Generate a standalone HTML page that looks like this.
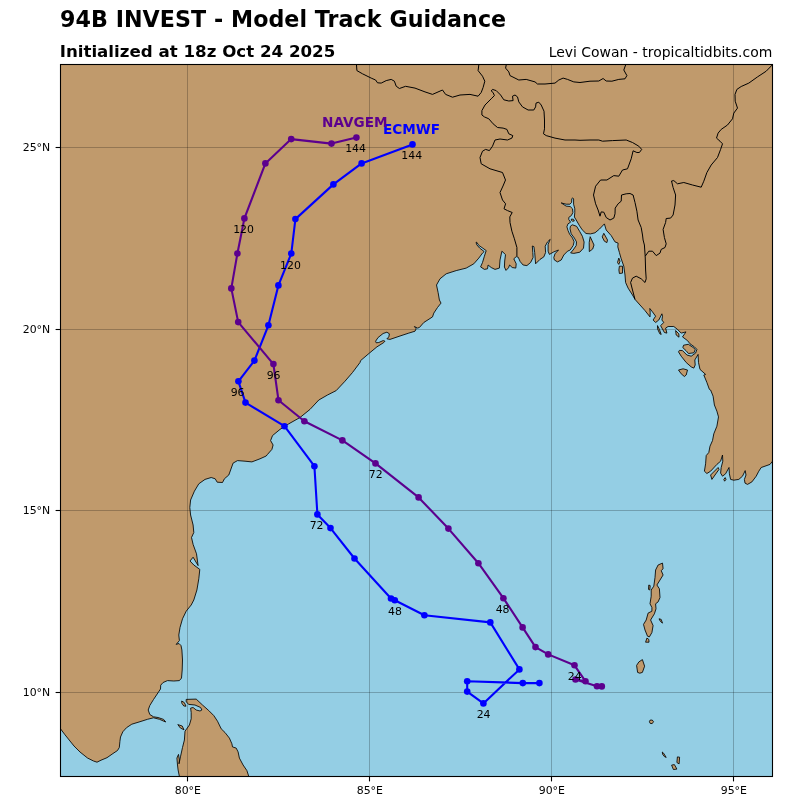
<!DOCTYPE html>
<html lang="en">
<head>
<meta charset="utf-8">
<title>94B INVEST - Model Track Guidance</title>
<style>
html,body{margin:0;padding:0;background:#fff;}
body{width:800px;height:800px;overflow:hidden;}
svg{display:block;}
text{font-family:"DejaVu Sans","Liberation Sans",sans-serif;fill:#000;}
.tick{font-size:8px;}
.lbl{font-size:10.9px;text-anchor:middle;}
.b{font-weight:bold;}
</style>
</head>
<body>
<svg width="800" height="800" viewBox="0 0 800 800">
<rect x="0" y="0" width="800" height="800" fill="#ffffff"/>
<defs><clipPath id="ax"><rect x="60.5" y="64.5" width="712" height="712"/></clipPath></defs>
<rect x="60.5" y="64.5" width="712" height="712" fill="#94cee4"/>
<g clip-path="url(#ax)">
<path d="M60.5,728.8 L65.0,734.8 L74.0,746.0 L80.0,752.0 L87.5,758.0 L93.5,761.0 L97.0,762.2 L101.0,760.2 L107.0,757.7 L113.0,753.5 L117.5,750.5 L119.3,747.5 L119.9,741.5 L120.5,737.0 L122.8,731.8 L126.5,727.7 L131.8,724.2 L140.0,721.7 L147.5,719.3 L153.5,717.8 L159.5,719.3 L165.7,722.0 L163.6,719.4 L158.0,717.5 L153.5,716.8 L149.8,714.5 L148.2,710.0 L149.8,705.5 L153.5,699.5 L158.0,692.8 L160.5,689.0 L160.7,685.2 L163.1,682.5 L167.5,680.6 L173.8,681.0 L179.4,680.6 L181.5,678.1 L182.2,670.0 L182.5,660.0 L181.9,650.0 L181.0,645.6 L179.0,643.5 L176.2,644.4 L179.4,640.6 L178.8,635.0 L180.0,627.5 L182.5,618.8 L186.2,611.2 L191.2,605.0 L193.8,600.0 L196.9,590.0 L198.8,578.8 L199.8,569.4 L193.8,565.0 L190.0,561.0 L193.1,557.2 L198.1,565.6 L196.5,553.8 L193.1,544.4 L191.5,537.5 L193.8,532.5 L193.1,525.0 L190.6,515.0 L189.8,507.5 L190.6,500.0 L194.4,491.2 L198.8,483.8 L205.0,479.4 L211.2,477.5 L215.2,478.8 L217.2,482.2 L222.5,482.5 L224.4,478.8 L228.8,475.0 L230.6,470.0 L233.1,463.1 L237.5,460.6 L245.0,461.2 L251.9,461.9 L260.0,458.8 L266.2,456.0 L267.5,454.4 L271.9,449.4 L273.1,445.0 L270.6,440.6 L272.5,435.6 L280.0,429.4 L288.8,423.8 L300.0,417.5 L310.0,409.4 L318.8,400.0 L327.5,395.0 L336.2,390.6 L345.0,381.2 L352.5,372.5 L360.0,362.5 L360.6,360.6 L369.4,353.1 L376.9,346.9 L383.8,342.5 L385.0,341.2 L383.1,340.6 L378.8,342.5 L376.2,342.8 L375.6,341.2 L378.1,337.5 L383.1,333.5 L386.9,332.2 L389.4,333.8 L388.8,336.9 L386.9,338.8 L390.0,339.4 L400.0,336.0 L408.8,333.1 L415.0,331.2 L416.2,328.8 L414.4,326.5 L417.5,328.1 L419.4,327.5 L423.8,322.5 L432.5,316.9 L433.8,313.1 L437.5,307.5 L441.0,303.1 L439.4,300.0 L438.1,292.5 L436.5,285.0 L440.0,278.8 L446.2,273.8 L456.2,270.6 L466.2,268.1 L473.8,263.8 L478.8,258.1 L482.5,253.1 L484.2,251.6 L479.6,248.0 L476.6,244.6 L476.1,242.2 L476.9,242.4 L478.7,245.3 L483.0,248.3 L486.2,250.6 L484.4,256.2 L482.5,262.5 L480.6,266.9 L484.4,269.4 L487.5,268.8 L488.1,265.0 L491.2,267.5 L495.0,269.4 L499.4,268.1 L500.0,260.0 L501.9,251.2 L505.5,254.6 L504.7,261.0 L504.4,267.0 L506.0,270.4 L508.5,267.8 L509.6,265.0 L512.2,267.5 L515.8,268.1 L516.2,263.8 L513.8,258.8 L516.3,256.6 L518.2,257.2 L520.2,261.6 L523.1,265.0 L526.9,265.6 L530.6,262.5 L533.1,257.5 L532.8,252.5 L532.3,246.0 L533.9,246.6 L534.7,252.5 L535.6,263.8 L540.0,259.4 L543.8,256.9 L545.6,252.5 L545.2,246.2 L547.5,241.9 L550.2,239.4 L548.1,244.4 L548.1,251.2 L549.4,254.4 L553.8,251.9 L558.5,250.0 L555.0,253.8 L553.8,257.5 L554.4,260.0 L557.5,261.9 L561.2,260.0 L563.8,255.0 L567.5,251.2 L570.2,250.0 L573.2,245.5 L574.1,241.8 L572.5,238.0 L569.6,234.2 L568.0,230.5 L566.9,226.8 L568.0,223.8 L570.6,222.2 L568.8,219.6 L568.8,217.4 L571.4,215.5 L572.9,212.5 L572.5,208.8 L570.2,206.5 L566.1,206.1 L561.2,202.9 L566.1,204.2 L569.9,204.2 L571.6,202.4 L571.8,198.6 L572.7,197.9 L573.6,199.0 L573.6,204.2 L574.8,208.8 L574.8,212.5 L574.4,217.0 L576.2,220.0 L579.2,225.2 L582.2,229.8 L586.0,233.5 L590.5,233.9 L595.0,232.8 L599.5,229.0 L604.4,223.9 L606.2,230.0 L611.2,235.6 L615.0,241.9 L618.1,243.1 L617.8,246.9 L619.4,252.5 L621.2,258.8 L623.8,266.2 L625.0,275.0 L625.6,282.5 L628.1,288.1 L632.5,295.0 L635.0,299.4 L640.0,305.0 L645.0,310.6 L650.0,316.9 L650.2,312.5 L649.8,308.5 L652.5,311.9 L655.6,316.2 L653.1,320.0 L655.6,322.5 L658.8,320.0 L661.9,313.8 L662.5,316.2 L661.9,320.0 L663.8,322.5 L660.6,325.6 L664.4,332.5 L666.9,333.1 L665.6,328.1 L668.1,326.5 L673.8,326.5 L677.5,329.4 L681.2,333.1 L686.0,331.9 L682.5,336.9 L687.5,340.6 L690.0,343.8 L694.4,346.9 L696.9,349.4 L695.6,353.1 L691.2,356.2 L686.9,355.0 L682.5,350.6 L679.4,350.4 L678.5,351.9 L681.2,356.2 L686.2,362.5 L691.2,366.9 L693.8,368.1 L695.2,365.0 L694.8,360.0 L698.1,354.4 L698.5,362.5 L700.0,369.4 L705.6,374.4 L703.8,375.0 L706.9,382.5 L709.4,389.4 L710.6,390.0 L713.1,396.2 L714.4,405.0 L716.9,411.2 L718.5,416.9 L716.9,426.2 L713.8,433.8 L712.5,440.6 L710.0,446.2 L708.8,452.5 L706.2,455.6 L705.6,463.8 L704.4,471.2 L706.9,473.5 L710.6,471.2 L716.9,464.4 L720.6,461.2 L722.5,455.0 L722.8,461.2 L721.2,467.5 L720.6,473.1 L722.5,476.2 L725.6,473.8 L729.0,467.5 L729.4,473.8 L730.6,479.4 L733.8,480.2 L738.8,479.4 L742.5,476.2 L745.2,470.6 L746.0,475.0 L744.4,479.4 L745.0,483.1 L747.5,484.4 L751.9,481.9 L756.2,476.2 L758.8,471.2 L761.2,467.5 L770.0,464.4 L772.5,461.2 L772.5,64.5 L60.5,64.5Z" fill="#c09a6c" stroke="none"/>
<path d="M60.5,728.8 L65.0,734.8 L74.0,746.0 L80.0,752.0 L87.5,758.0 L93.5,761.0 L97.0,762.2 L101.0,760.2 L107.0,757.7 L113.0,753.5 L117.5,750.5 L119.3,747.5 L119.9,741.5 L120.5,737.0 L122.8,731.8 L126.5,727.7 L131.8,724.2 L140.0,721.7 L147.5,719.3 L153.5,717.8 L159.5,719.3 L165.7,722.0 L163.6,719.4 L158.0,717.5 L153.5,716.8 L149.8,714.5 L148.2,710.0 L149.8,705.5 L153.5,699.5 L158.0,692.8 L160.5,689.0 L160.7,685.2 L163.1,682.5 L167.5,680.6 L173.8,681.0 L179.4,680.6 L181.5,678.1 L182.2,670.0 L182.5,660.0 L181.9,650.0 L181.0,645.6 L179.0,643.5 L176.2,644.4 L179.4,640.6 L178.8,635.0 L180.0,627.5 L182.5,618.8 L186.2,611.2 L191.2,605.0 L193.8,600.0 L196.9,590.0 L198.8,578.8 L199.8,569.4 L193.8,565.0 L190.0,561.0 L193.1,557.2 L198.1,565.6 L196.5,553.8 L193.1,544.4 L191.5,537.5 L193.8,532.5 L193.1,525.0 L190.6,515.0 L189.8,507.5 L190.6,500.0 L194.4,491.2 L198.8,483.8 L205.0,479.4 L211.2,477.5 L215.2,478.8 L217.2,482.2 L222.5,482.5 L224.4,478.8 L228.8,475.0 L230.6,470.0 L233.1,463.1 L237.5,460.6 L245.0,461.2 L251.9,461.9 L260.0,458.8 L266.2,456.0 L267.5,454.4 L271.9,449.4 L273.1,445.0 L270.6,440.6 L272.5,435.6 L280.0,429.4 L288.8,423.8 L300.0,417.5 L310.0,409.4 L318.8,400.0 L327.5,395.0 L336.2,390.6 L345.0,381.2 L352.5,372.5 L360.0,362.5 L360.6,360.6 L369.4,353.1 L376.9,346.9 L383.8,342.5 L385.0,341.2 L383.1,340.6 L378.8,342.5 L376.2,342.8 L375.6,341.2 L378.1,337.5 L383.1,333.5 L386.9,332.2 L389.4,333.8 L388.8,336.9 L386.9,338.8 L390.0,339.4 L400.0,336.0 L408.8,333.1 L415.0,331.2 L416.2,328.8 L414.4,326.5 L417.5,328.1 L419.4,327.5 L423.8,322.5 L432.5,316.9 L433.8,313.1 L437.5,307.5 L441.0,303.1 L439.4,300.0 L438.1,292.5 L436.5,285.0 L440.0,278.8 L446.2,273.8 L456.2,270.6 L466.2,268.1 L473.8,263.8 L478.8,258.1 L482.5,253.1 L484.2,251.6 L479.6,248.0 L476.6,244.6 L476.1,242.2 L476.9,242.4 L478.7,245.3 L483.0,248.3 L486.2,250.6 L484.4,256.2 L482.5,262.5 L480.6,266.9 L484.4,269.4 L487.5,268.8 L488.1,265.0 L491.2,267.5 L495.0,269.4 L499.4,268.1 L500.0,260.0 L501.9,251.2 L505.5,254.6 L504.7,261.0 L504.4,267.0 L506.0,270.4 L508.5,267.8 L509.6,265.0 L512.2,267.5 L515.8,268.1 L516.2,263.8 L513.8,258.8 L516.3,256.6 L518.2,257.2 L520.2,261.6 L523.1,265.0 L526.9,265.6 L530.6,262.5 L533.1,257.5 L532.8,252.5 L532.3,246.0 L533.9,246.6 L534.7,252.5 L535.6,263.8 L540.0,259.4 L543.8,256.9 L545.6,252.5 L545.2,246.2 L547.5,241.9 L550.2,239.4 L548.1,244.4 L548.1,251.2 L549.4,254.4 L553.8,251.9 L558.5,250.0 L555.0,253.8 L553.8,257.5 L554.4,260.0 L557.5,261.9 L561.2,260.0 L563.8,255.0 L567.5,251.2 L570.2,250.0 L573.2,245.5 L574.1,241.8 L572.5,238.0 L569.6,234.2 L568.0,230.5 L566.9,226.8 L568.0,223.8 L570.6,222.2 L568.8,219.6 L568.8,217.4 L571.4,215.5 L572.9,212.5 L572.5,208.8 L570.2,206.5 L566.1,206.1 L561.2,202.9 L566.1,204.2 L569.9,204.2 L571.6,202.4 L571.8,198.6 L572.7,197.9 L573.6,199.0 L573.6,204.2 L574.8,208.8 L574.8,212.5 L574.4,217.0 L576.2,220.0 L579.2,225.2 L582.2,229.8 L586.0,233.5 L590.5,233.9 L595.0,232.8 L599.5,229.0 L604.4,223.9 L606.2,230.0 L611.2,235.6 L615.0,241.9 L618.1,243.1 L617.8,246.9 L619.4,252.5 L621.2,258.8 L623.8,266.2 L625.0,275.0 L625.6,282.5 L628.1,288.1 L632.5,295.0 L635.0,299.4 L640.0,305.0 L645.0,310.6 L650.0,316.9 L650.2,312.5 L649.8,308.5 L652.5,311.9 L655.6,316.2 L653.1,320.0 L655.6,322.5 L658.8,320.0 L661.9,313.8 L662.5,316.2 L661.9,320.0 L663.8,322.5 L660.6,325.6 L664.4,332.5 L666.9,333.1 L665.6,328.1 L668.1,326.5 L673.8,326.5 L677.5,329.4 L681.2,333.1 L686.0,331.9 L682.5,336.9 L687.5,340.6 L690.0,343.8 L694.4,346.9 L696.9,349.4 L695.6,353.1 L691.2,356.2 L686.9,355.0 L682.5,350.6 L679.4,350.4 L678.5,351.9 L681.2,356.2 L686.2,362.5 L691.2,366.9 L693.8,368.1 L695.2,365.0 L694.8,360.0 L698.1,354.4 L698.5,362.5 L700.0,369.4 L705.6,374.4 L703.8,375.0 L706.9,382.5 L709.4,389.4 L710.6,390.0 L713.1,396.2 L714.4,405.0 L716.9,411.2 L718.5,416.9 L716.9,426.2 L713.8,433.8 L712.5,440.6 L710.0,446.2 L708.8,452.5 L706.2,455.6 L705.6,463.8 L704.4,471.2 L706.9,473.5 L710.6,471.2 L716.9,464.4 L720.6,461.2 L722.5,455.0 L722.8,461.2 L721.2,467.5 L720.6,473.1 L722.5,476.2 L725.6,473.8 L729.0,467.5 L729.4,473.8 L730.6,479.4 L733.8,480.2 L738.8,479.4 L742.5,476.2 L745.2,470.6 L746.0,475.0 L744.4,479.4 L745.0,483.1 L747.5,484.4 L751.9,481.9 L756.2,476.2 L758.8,471.2 L761.2,467.5 L770.0,464.4 L772.5,461.2" fill="none" stroke="#000" stroke-width="0.85" stroke-linejoin="round"/>
<path d="M572.3,224.8 L576.6,226.3 L579.6,231.3 L582.4,236.3 L584.1,242.0 L583.5,248.1 L579.8,252.2 L573.8,253.4 L570.6,252.9 L573.1,250.0 L576.2,245.6 L576.5,241.9 L574.4,238.1 L571.2,233.8 L570.0,228.8 L570.4,226.2Z M571.5,219.0 L573.5,219.3 L574.3,221.0 L572.5,221.2 L571.2,220.2Z M590.2,236.7 L594.0,245.0 L592.7,249.0 L589.3,251.6 L589.2,242.5Z M603.8,233.3 L607.5,240.0 L606.9,242.6 L604.4,241.2 L602.2,236.9Z M618.8,258.1 L620.0,261.2 L618.8,264.4 L617.5,262.5Z M619.4,266.2 L622.5,266.2 L622.5,273.1 L619.4,273.5 L618.9,270.0Z M657.5,325.6 L659.4,329.4 L661.2,334.4 L659.8,333.8 L657.5,328.8Z M675.6,330.6 L678.8,333.8 L679.0,337.2 L676.2,335.0Z M683.6,345.2 L688.3,344.3 L693.0,347.4 L695.3,349.4 L693.9,352.8 L688.5,353.5 L686.0,350.6 L682.8,347.6Z M678.5,370.0 L683.1,368.8 L687.5,370.0 L686.2,375.0 L684.4,376.5 L681.2,373.8Z M710.6,475.0 L718.1,467.5 L719.0,469.4 L715.0,475.0 L711.9,479.4Z M723.8,479.4 L725.2,477.6 L726.0,479.4 L724.6,481.2Z M186.2,699.4 L196.2,699.1 L202.5,705.0 L208.8,710.6 L213.8,715.6 L217.5,721.2 L221.2,728.8 L225.0,732.5 L229.4,738.1 L231.9,743.8 L232.5,746.9 L236.2,748.1 L238.1,751.9 L239.4,758.1 L243.1,765.0 L246.9,770.6 L248.8,776.5 L179.4,776.5 L178.1,770.0 L177.5,765.0 L176.9,758.1 L178.5,754.4 L179.4,760.0 L179.0,763.8 L180.6,756.2 L182.5,747.5 L184.4,740.0 L185.0,731.2 L189.4,725.0 L191.2,718.8 L191.2,712.5 L190.6,708.1 L193.1,707.5 L196.2,710.0 L200.0,711.0 L201.9,710.0 L200.6,707.5 L195.0,705.0 L188.8,704.4 L186.2,701.9Z M181.7,701.0 L184.3,702.6 L186.0,706.2 L183.8,706.0 L181.8,703.2Z M177.8,724.6 L182.2,726.0 L184.0,729.8 L180.4,728.0Z M662.5,563.1 L663.1,568.8 L661.2,570.6 L663.1,575.0 L660.0,580.0 L656.9,585.0 L659.4,588.8 L660.0,597.5 L658.1,601.9 L655.6,603.8 L656.0,608.8 L654.4,613.8 L650.6,620.0 L653.1,625.6 L651.9,632.5 L649.4,636.9 L647.5,636.2 L645.0,630.0 L643.5,624.4 L646.2,620.0 L648.1,613.1 L651.9,611.2 L651.9,607.5 L650.0,603.8 L651.2,596.2 L651.2,590.0 L653.8,586.2 L655.0,577.5 L655.6,570.0 L658.1,565.0Z M648.8,585.0 L650.2,585.6 L649.8,590.0 L648.5,589.4Z M659.0,618.8 L661.2,619.4 L662.5,623.1 L660.5,621.5Z M646.9,638.1 L648.8,639.4 L649.0,642.2 L645.6,642.2Z M642.4,659.6 L644.6,666.2 L642.4,672.4 L639.8,673.2 L637.6,672.4 L636.6,665.4 L638.9,661.9Z M650.0,720.2 L652.2,720.0 L653.5,721.7 L652.2,723.6 L650.2,723.4 L649.4,721.7Z M662.3,752.0 L663.6,753.2 L666.2,757.4 L664.4,756.6 L662.6,754.2Z M677.4,756.9 L679.6,757.2 L679.1,763.9 L676.9,762.5Z M671.6,765.1 L674.4,764.6 L676.9,769.1 L673.4,769.5Z" fill="#c09a6c" stroke="#000" stroke-width="0.85" stroke-linejoin="round"/>
<path d="M356.5,65.0 L356.9,70.6 L362.5,73.8 L371.2,78.1 L375.6,80.0 L377.5,82.8 L381.2,83.1 L386.2,80.6 L391.2,79.4 L394.4,81.2 L396.2,86.2 L399.4,88.5 L405.6,86.3 L415.0,88.1 L425.0,91.9 L432.5,94.4 L442.5,90.0 L445.6,94.4 L452.5,97.2 L460.0,95.0 L470.0,94.4 L478.1,96.2 L481.2,92.5 L483.1,87.5 L484.8,81.2 L482.5,76.2 L478.1,70.6 L478.8,65.0 M506.2,65.0 L505.6,68.1 L508.8,71.9 L510.0,75.6 L518.8,80.0 L526.2,79.4 L535.0,81.9 L537.5,84.0 L545.0,84.0 L555.0,83.1 L558.8,80.0 L563.1,78.1 L567.5,79.4 L573.8,81.9 L580.0,82.5 L590.0,81.2 L598.8,81.0 L603.1,78.5 L606.2,81.0 L611.9,81.2 L618.8,79.4 L625.0,78.8 L626.9,75.6 L623.8,70.0 L625.6,65.0 M516.9,256.2 L516.9,247.5 L514.4,238.8 L511.9,231.2 L510.0,222.5 L509.8,216.9 L512.2,212.5 L507.5,210.6 L504.0,208.8 L505.6,203.8 L502.5,200.0 L500.0,192.5 L503.0,186.0 L505.5,180.0 L502.5,172.5 L490.0,168.8 L481.2,163.8 L480.0,157.5 L482.5,151.2 L485.6,149.4 L489.4,150.6 L492.5,146.2 L495.0,140.0 L500.0,139.0 L507.5,140.0 L511.9,138.1 L512.8,135.6 L508.8,133.8 L506.9,129.4 L503.1,128.1 L497.5,127.5 L493.1,123.8 L488.8,118.8 L484.4,116.9 L481.9,115.0 L481.9,110.6 L485.0,105.0 L491.2,98.8 L494.4,95.6 L493.1,92.5 L491.2,91.0 L492.5,89.4 L496.2,90.6 L500.6,95.0 L503.8,99.8 L508.8,101.0 L513.1,100.6 L512.5,96.2 L515.0,95.0 L517.5,96.9 L518.8,101.9 L522.5,106.9 L528.1,110.0 L533.8,110.0 L535.6,106.9 L536.0,103.1 L538.8,102.2 L541.2,105.0 L544.0,111.2 L544.5,120.0 L544.5,128.8 L543.5,133.8 L546.2,135.6 L555.0,138.1 L565.0,140.0 L575.0,140.0 L580.0,140.3 L590.0,140.0 L598.8,140.0 L602.5,141.2 L612.5,140.6 L626.2,140.0 L632.5,142.5 L638.8,146.2 L641.7,149.4 L639.4,152.5 L636.9,152.5 L633.1,150.8 L631.2,158.8 L627.5,168.8 L622.5,170.0 L618.8,176.2 L613.8,175.6 L606.9,180.0 L600.6,180.0 L595.6,186.2 L593.5,195.0 L595.6,203.8 L598.1,210.0 L600.0,216.2 L601.2,211.9 L603.8,212.2 L606.2,217.5 L610.0,220.0 L613.8,218.1 L615.0,213.8 L615.2,208.1 L618.1,203.8 L621.2,201.2 L621.5,195.0 L626.2,193.8 L630.0,193.5 L633.1,195.0 L635.0,202.5 L636.9,211.2 L638.1,220.0 L641.2,227.5 L642.5,235.0 L643.1,240.0 L644.4,245.0 L645.2,256.2 L645.6,270.0 L646.2,278.8 L645.0,282.5 L641.2,278.8 L636.2,276.2 L632.5,278.1 L630.6,282.5 L632.5,290.0 L635.0,299.4 M772.2,65.0 L766.2,71.2 L757.5,76.9 L748.8,83.1 L741.2,86.5 L736.9,89.4 L735.0,94.4 L735.2,101.2 L737.5,108.1 L733.8,113.1 L732.5,118.8 L727.5,125.0 L721.2,129.4 L718.1,133.1 L716.5,138.1 L720.0,141.2 L722.5,143.8 L720.6,149.4 L717.5,157.5 L711.2,165.0 L706.9,172.5 L703.8,181.2 L701.2,187.2 L692.5,185.0 L683.8,182.5 L677.5,183.8 L673.8,180.6 L671.5,181.0 L673.1,187.5 L675.6,195.0 L675.0,205.0 L673.1,215.0 L670.6,218.1 L666.2,218.5 L665.6,222.5 L663.1,229.4 L664.4,237.5 L666.2,243.8 L665.0,247.5 L661.2,249.4 L660.0,253.1 L656.2,255.6 L652.5,251.2 L648.8,251.2 L645.2,256.2" fill="none" stroke="#000" stroke-width="1.0" stroke-linejoin="round"/>
<line x1="187.5" y1="64.5" x2="187.5" y2="776.5" stroke="#000" stroke-opacity="0.23" stroke-width="1"/>
<line x1="369.5" y1="64.5" x2="369.5" y2="776.5" stroke="#000" stroke-opacity="0.23" stroke-width="1"/>
<line x1="551.5" y1="64.5" x2="551.5" y2="776.5" stroke="#000" stroke-opacity="0.23" stroke-width="1"/>
<line x1="733.5" y1="64.5" x2="733.5" y2="776.5" stroke="#000" stroke-opacity="0.23" stroke-width="1"/>
<line x1="60.5" y1="147.5" x2="772.5" y2="147.5" stroke="#000" stroke-opacity="0.23" stroke-width="1"/>
<line x1="60.5" y1="329.5" x2="772.5" y2="329.5" stroke="#000" stroke-opacity="0.23" stroke-width="1"/>
<line x1="60.5" y1="510.5" x2="772.5" y2="510.5" stroke="#000" stroke-opacity="0.23" stroke-width="1"/>
<line x1="60.5" y1="692.5" x2="772.5" y2="692.5" stroke="#000" stroke-opacity="0.23" stroke-width="1"/>
<polyline points="539.4,683.1 522.8,683.1 467.2,681.2 467.2,691.6 483.4,703.4 519.4,669.4 490.3,622.4 424.4,615.2 394.8,600.2 391.0,598.5 354.5,558.5 330.5,528.1 317.4,514.4 314.4,466.2 284.5,426.2 245.5,402.6 238.4,381.3 254.4,360.6 268.4,325.3 278.4,285.4 291.3,253.5 295.4,219.1 333.4,184.4 361.6,163.4 412.5,144.4" fill="none" stroke="#0000ff" stroke-width="2.1" stroke-linejoin="round" stroke-linecap="butt"/>
<circle cx="539.4" cy="683.1" r="3.3" fill="#0000ff"/><circle cx="522.8" cy="683.1" r="3.3" fill="#0000ff"/><circle cx="467.2" cy="681.2" r="3.3" fill="#0000ff"/><circle cx="467.2" cy="691.6" r="3.3" fill="#0000ff"/><circle cx="483.4" cy="703.4" r="3.3" fill="#0000ff"/><circle cx="519.4" cy="669.4" r="3.3" fill="#0000ff"/><circle cx="490.3" cy="622.4" r="3.3" fill="#0000ff"/><circle cx="424.4" cy="615.2" r="3.3" fill="#0000ff"/><circle cx="394.8" cy="600.2" r="3.3" fill="#0000ff"/><circle cx="391.0" cy="598.5" r="3.3" fill="#0000ff"/><circle cx="354.5" cy="558.5" r="3.3" fill="#0000ff"/><circle cx="330.5" cy="528.1" r="3.3" fill="#0000ff"/><circle cx="317.4" cy="514.4" r="3.3" fill="#0000ff"/><circle cx="314.4" cy="466.2" r="3.3" fill="#0000ff"/><circle cx="284.5" cy="426.2" r="3.3" fill="#0000ff"/><circle cx="245.5" cy="402.6" r="3.3" fill="#0000ff"/><circle cx="238.4" cy="381.3" r="3.3" fill="#0000ff"/><circle cx="254.4" cy="360.6" r="3.3" fill="#0000ff"/><circle cx="268.4" cy="325.3" r="3.3" fill="#0000ff"/><circle cx="278.4" cy="285.4" r="3.3" fill="#0000ff"/><circle cx="291.3" cy="253.5" r="3.3" fill="#0000ff"/><circle cx="295.4" cy="219.1" r="3.3" fill="#0000ff"/><circle cx="333.4" cy="184.4" r="3.3" fill="#0000ff"/><circle cx="361.6" cy="163.4" r="3.3" fill="#0000ff"/><circle cx="412.5" cy="144.4" r="3.3" fill="#0000ff"/>
<polyline points="601.8,686.4 597.0,686.2 575.5,679.5 585.5,681.3 574.5,665.3 548.2,654.4 535.5,647.1 522.6,627.4 503.4,598.2 478.4,563.2 448.4,528.6 418.6,497.4 375.5,463.4 342.4,440.4 304.4,421.3 278.5,400.3 273.4,364.1 238.2,322.1 231.3,288.4 237.4,253.5 244.4,218.4 265.4,163.4 291.2,139.1 331.5,143.6 356.4,137.6" fill="none" stroke="#5c008e" stroke-width="2.1" stroke-linejoin="round" stroke-linecap="butt"/>
<circle cx="601.8" cy="686.4" r="3.3" fill="#5c008e"/><circle cx="597.0" cy="686.2" r="3.3" fill="#5c008e"/><circle cx="575.5" cy="679.5" r="3.3" fill="#5c008e"/><circle cx="585.5" cy="681.3" r="3.3" fill="#5c008e"/><circle cx="574.5" cy="665.3" r="3.3" fill="#5c008e"/><circle cx="548.2" cy="654.4" r="3.3" fill="#5c008e"/><circle cx="535.5" cy="647.1" r="3.3" fill="#5c008e"/><circle cx="522.6" cy="627.4" r="3.3" fill="#5c008e"/><circle cx="503.4" cy="598.2" r="3.3" fill="#5c008e"/><circle cx="478.4" cy="563.2" r="3.3" fill="#5c008e"/><circle cx="448.4" cy="528.6" r="3.3" fill="#5c008e"/><circle cx="418.6" cy="497.4" r="3.3" fill="#5c008e"/><circle cx="375.5" cy="463.4" r="3.3" fill="#5c008e"/><circle cx="342.4" cy="440.4" r="3.3" fill="#5c008e"/><circle cx="304.4" cy="421.3" r="3.3" fill="#5c008e"/><circle cx="278.5" cy="400.3" r="3.3" fill="#5c008e"/><circle cx="273.4" cy="364.1" r="3.3" fill="#5c008e"/><circle cx="238.2" cy="322.1" r="3.3" fill="#5c008e"/><circle cx="231.3" cy="288.4" r="3.3" fill="#5c008e"/><circle cx="237.4" cy="253.5" r="3.3" fill="#5c008e"/><circle cx="244.4" cy="218.4" r="3.3" fill="#5c008e"/><circle cx="265.4" cy="163.4" r="3.3" fill="#5c008e"/><circle cx="291.2" cy="139.1" r="3.3" fill="#5c008e"/><circle cx="331.5" cy="143.6" r="3.3" fill="#5c008e"/><circle cx="356.4" cy="137.6" r="3.3" fill="#5c008e"/>
<text class="lbl" x="483.6" y="718.0">24</text>
<text class="lbl" x="394.9" y="614.8">48</text>
<text class="lbl" x="316.6" y="529.0">72</text>
<text class="lbl" x="237.6" y="395.9">96</text>
<text class="lbl" x="290.5" y="268.9">120</text>
<text class="lbl" x="411.7" y="159.0">144</text>
<text class="lbl" x="574.7" y="679.9">24</text>
<text class="lbl" x="502.6" y="612.8">48</text>
<text class="lbl" x="375.7" y="478.0">72</text>
<text class="lbl" x="273.6" y="378.7">96</text>
<text class="lbl" x="243.6" y="233.0">120</text>
<text class="lbl" x="355.6" y="152.2">144</text>
<text class="b" x="411.5" y="134" style="font-size:13.6px;text-anchor:middle;fill:#0000ff">ECMWF</text>
<text class="b" x="354.8" y="127" style="font-size:13.6px;text-anchor:middle;fill:#5c008e">NAVGEM</text>
</g>
<rect x="60.5" y="64.5" width="712" height="712" fill="none" stroke="#000" stroke-width="1.1"/>
<line x1="187.5" y1="776.5" x2="187.5" y2="781.4" stroke="#000" stroke-width="1.1"/>
<text x="187.8" y="794" style="font-size:10.9px;text-anchor:middle">80°E</text>
<line x1="369.5" y1="776.5" x2="369.5" y2="781.4" stroke="#000" stroke-width="1.1"/>
<text x="369.8" y="794" style="font-size:10.9px;text-anchor:middle">85°E</text>
<line x1="551.5" y1="776.5" x2="551.5" y2="781.4" stroke="#000" stroke-width="1.1"/>
<text x="551.8" y="794" style="font-size:10.9px;text-anchor:middle">90°E</text>
<line x1="733.5" y1="776.5" x2="733.5" y2="781.4" stroke="#000" stroke-width="1.1"/>
<text x="733.8" y="794" style="font-size:10.9px;text-anchor:middle">95°E</text>
<line x1="55.6" y1="147.5" x2="60.5" y2="147.5" stroke="#000" stroke-width="1.1"/>
<text x="50.2" y="151.1" style="font-size:10.9px;text-anchor:end">25°N</text>
<line x1="55.6" y1="329.5" x2="60.5" y2="329.5" stroke="#000" stroke-width="1.1"/>
<text x="50.2" y="333.1" style="font-size:10.9px;text-anchor:end">20°N</text>
<line x1="55.6" y1="510.5" x2="60.5" y2="510.5" stroke="#000" stroke-width="1.1"/>
<text x="50.2" y="514.1" style="font-size:10.9px;text-anchor:end">15°N</text>
<line x1="55.6" y1="692.5" x2="60.5" y2="692.5" stroke="#000" stroke-width="1.1"/>
<text x="50.2" y="696.1" style="font-size:10.9px;text-anchor:end">10°N</text>
<text class="b" x="60" y="27" style="font-size:22.2px;letter-spacing:0.045px">94B INVEST - Model Track Guidance</text>
<text class="b" x="59.7" y="57" style="font-size:16.67px">Initialized at 18z Oct 24 2025</text>
<text x="772.3" y="57.2" style="font-size:13.95px;text-anchor:end">Levi Cowan - tropicaltidbits.com</text>
</svg>
</body>
</html>
